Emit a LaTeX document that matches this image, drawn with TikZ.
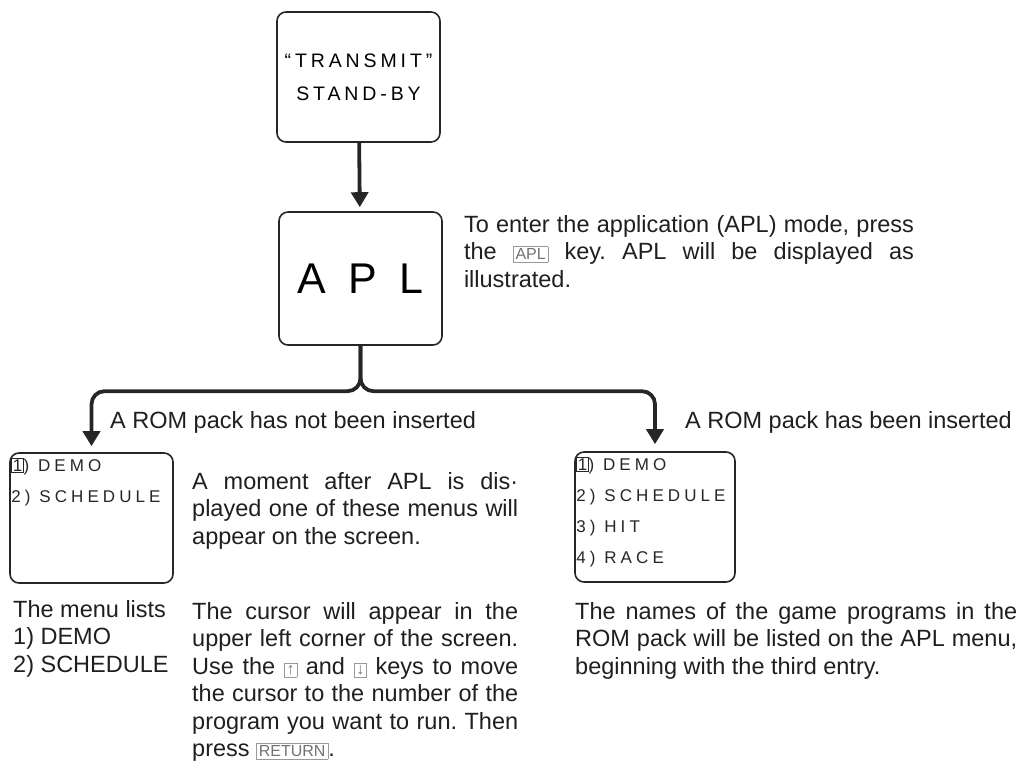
\documentclass[tikz,border=0pt]{standalone}
\usepackage{fontspec}
\setmainfont{Liberation Sans}
\newfontfamily\screenfont[LetterSpace=24]{Liberation Sans}
\newfontfamily\bannerfont[LetterSpace=20]{Liberation Sans}
\usetikzlibrary{arrows.meta,positioning,calc}

\newcommand{\bodyfont}{\fontsize{23.5}{27.5}\selectfont}
\newcommand{\keycap}[1]{{\setlength{\fboxsep}{2pt}\setlength{\fboxrule}{0.7pt}\fcolorbox{black!40}{white}{\fontsize{16}{16}\selectfont\color{black!55}#1}}}
\newcommand{\cursorcell}[1]{{\setlength{\fboxsep}{0.6pt}\setlength{\fboxrule}{0.8pt}\fbox{#1}}}

\begin{document}
\frenchspacing
\begin{tikzpicture}[x=1pt, y=-1pt,
  screen/.style={draw=black!85, line width=1.6pt, rounded corners=9pt, inner sep=0pt},
  flow/.style={draw=black!85, line width=3.8pt, rounded corners=13pt, -{Triangle[width=17pt,length=15pt]}},
  note/.style={font=\bodyfont\frenchspacing, text=black!88, inner sep=0pt, anchor=north west, align=justify,
    execute at begin node={\tolerance=9999\hbadness=10000}},
  menutext/.style={font=\screenfont\fontsize{17}{31}\selectfont, text=black!85, align=left, inner sep=0pt, anchor=north west}]
\useasboundingbox (0,0) rectangle (1021,768);

% screens
\node[screen, minimum width=163pt, minimum height=130pt, align=center, font=\bannerfont\fontsize{19.5}{33}\selectfont] (trans) at (358.5,77) {“TRANSMIT”\\STAND-BY};
\node[screen, minimum width=163pt, minimum height=133pt, font=\fontsize{43}{43}\selectfont] (apl) at (360.5,278.5) {A\hspace{22pt}P\hspace{22pt}L};
\node[screen, minimum width=163pt, minimum height=130pt] (menuA) at (91.5,518) {};
\node[screen, minimum width=160pt, minimum height=130pt] (menuB) at (655,517) {};

\node[menutext, below right=6pt and 2pt of menuA.north west] (listA) {\cursorcell{1}) DEMO\\2) SCHEDULE};
\node[menutext, below right=6pt and 2pt of menuB.north west] (listB) {\cursorcell{1}) DEMO\\2) SCHEDULE\\3) HIT\\4) RACE};

% texts
\node[note, text width=450pt, below right=4pt and 21pt of apl.north east] (aplnote) {To enter the application (APL) mode, press\linebreak the \keycap{APL} key. APL will be displayed as\linebreak illustrated.};
\node[note, anchor=west] (labelA) at (110,422) {A ROM pack has not been inserted};
\node[note, anchor=west] (labelB) at (685,422) {A ROM pack has been inserted};
\node[note, text width=326pt] (momentnote) at (192,472) {A moment after APL is dis·\linebreak played one of these menus will\linebreak appear on the screen.};
\node[note, align=left] (listnote) at (13,600) {The menu lists\\1) DEMO\\2) SCHEDULE};
\node[note, text width=326pt] (cursornote) at (192,602) {The cursor will appear in the\linebreak upper left corner of the screen.\linebreak Use the \keycap{↑} and \keycap{↓} keys to move\linebreak the cursor to the number of the\linebreak program you want to run. Then\linebreak press \keycap{RETURN}.};
\node[note, text width=442pt] (romnote) at (575,602) {The names of the game programs in the\linebreak ROM pack will be listed on the APL menu,\linebreak beginning with the third entry.};

% arrows
\draw[flow, shorten >=4pt] (trans) -- (apl);
\draw[flow, shorten >=6pt] (apl.south) |- ($(menuA.north)+(0,-61)$) -- (menuA.north);
\draw[flow, shorten >=7pt] (apl.south) |- ($(menuB.north)+(0,-60)$) -- (menuB.north);
\end{tikzpicture}
\end{document}
